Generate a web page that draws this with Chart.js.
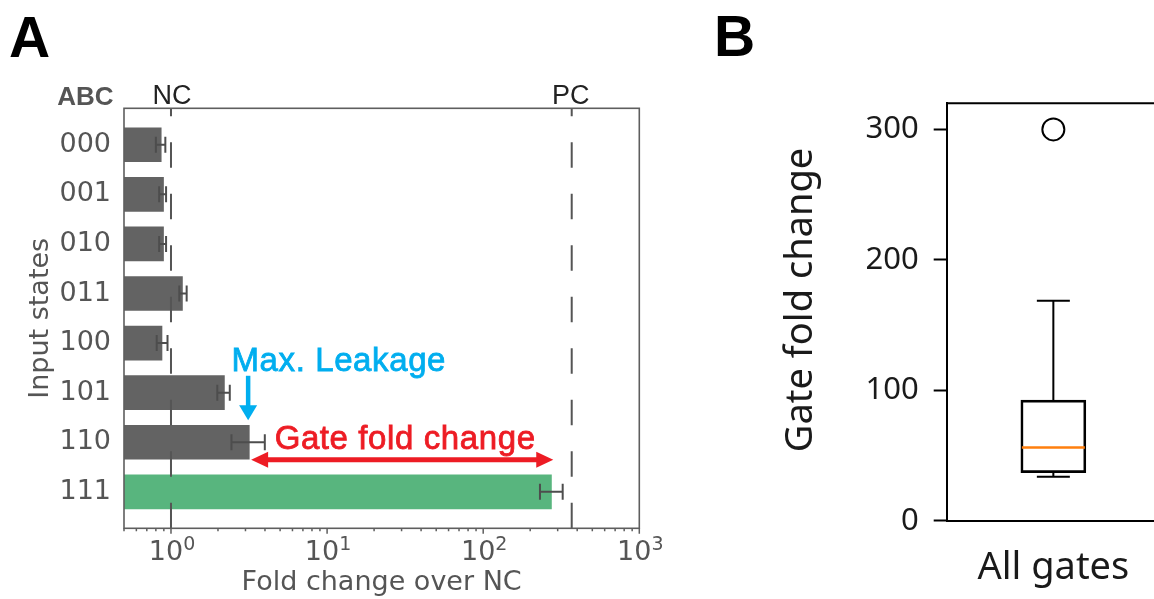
<!DOCTYPE html>
<html><head><meta charset="utf-8">
<script src="https://cdn.jsdelivr.net/npm/chart.js@4.4.1/dist/chart.umd.min.js"></script>
<style>
html,body{margin:0;padding:0;background:#fff;overflow:hidden;width:1154px;height:599px;position:relative;}
#wrapA{position:absolute;left:0;top:0;width:700px;height:599px;}
#wrapB{position:absolute;left:700px;top:0;width:480px;height:599px;}
canvas{display:block;}
</style></head><body>
<div id="wrapA"><canvas id="cA" width="700" height="599"></canvas></div>
<div id="wrapB"><canvas id="cB" width="480" height="599"></canvas></div>
<script>
// ---------- Panel A data ----------
const categories = ['000','001','010','011','100','101','110','111'];
const foldChange = [0.87, 0.90, 0.90, 1.19, 0.88, 2.21, 3.19, 275];
const errLow     = [0.80, 0.84, 0.84, 1.13, 0.81, 1.98, 2.44, 231];
const errHigh    = [0.92, 0.93, 0.93, 1.26, 0.95, 2.38, 3.99, 323];
const ncValue = 1;
const pcValue = 369;
const xMajorTicks = [1, 10, 100, 1000];
const xMinorTicks = [0.5,0.6,0.7,0.8,0.9, 2,3,4,5,6,7,8,9, 20,30,40,50,60,70,80,90, 200,300,400,500,600,700,800,900];

// ---------- Panel B data ----------
const boxCategory = ['All gates'];
const boxQ1 = [36.8];
const boxMedian = [56.2];
const boxQ3 = [92.5];
const whiskerLow = [33.7];
const whiskerHigh = [168.6];
const outliers = [300];
const yTicksB = [0, 100, 200, 300];

// ---------- helpers ----------
function arrowHead(ctx, tx, ty, dx, dy, len, halfW){
  const bx = tx - dx*len, by = ty - dy*len, px = -dy, py = dx;
  ctx.beginPath(); ctx.moveTo(tx, ty);
  ctx.lineTo(bx + px*halfW, by + py*halfW);
  ctx.lineTo(bx - px*halfW, by - py*halfW);
  ctx.closePath(); ctx.fill();
}
const TXT_A = '#555555';
const SPINE_A = '#5e5e5e';
const onIndex = categories.length - 1;
let leakIdx = 0;
foldChange.forEach((v,i) => { if (i !== onIndex && v > foldChange[leakIdx]) leakIdx = i; });

const panelAPlugin = {
  id: 'panelA',
  afterDatasetsDraw(chart){
    const {ctx, chartArea: a, scales: {x, y}} = chart;
    ctx.save();
    // dashed reference lines (NC, PC)
    ctx.strokeStyle = '#555'; ctx.lineWidth = 2; ctx.setLineDash([25.5, 26]);
    [ncValue, pcValue].forEach(v => {
      const px = x.getPixelForValue(v);
      ctx.beginPath(); ctx.moveTo(px, a.bottom); ctx.lineTo(px, a.top); ctx.stroke();
    });
    ctx.setLineDash([]);
    // error bars
    ctx.strokeStyle = '#4d4d4d'; ctx.lineWidth = 2;
    categories.forEach((c, i) => {
      const cy = y.getPixelForValue(i);
      const x0 = x.getPixelForValue(errLow[i]), x1 = x.getPixelForValue(errHigh[i]);
      ctx.beginPath();
      ctx.moveTo(x0, cy); ctx.lineTo(x1, cy);
      ctx.moveTo(x0, cy - 8); ctx.lineTo(x0, cy + 8);
      ctx.moveTo(x1, cy - 8); ctx.lineTo(x1, cy + 8);
      ctx.stroke();
    });
    ctx.restore();
  },
  afterDraw(chart){
    const {ctx, chartArea: a, scales: {x, y}} = chart;
    ctx.save();
    // frame
    ctx.strokeStyle = SPINE_A; ctx.lineWidth = 1.6;
    ctx.strokeRect(a.left, a.top, a.right - a.left, a.bottom - a.top);
    // x tick marks
    ctx.lineWidth = 1.5;
    ctx.beginPath();
    xMajorTicks.forEach(v => { const px = x.getPixelForValue(v); ctx.moveTo(px, a.bottom); ctx.lineTo(px, a.bottom + 5.5); });
    xMinorTicks.forEach(v => { const px = x.getPixelForValue(v); ctx.moveTo(px, a.bottom); ctx.lineTo(px, a.bottom + 3); });
    ctx.stroke();
    // x tick labels: 10 with superscript exponent
    ctx.fillStyle = TXT_A; ctx.textAlign = 'left'; ctx.textBaseline = 'alphabetic';
    xMajorTicks.forEach(v => {
      const px = x.getPixelForValue(v);
      const base = '10', exp = String(Math.round(Math.log10(v)));
      ctx.font = '27px "DejaVu Sans"'; const w1 = ctx.measureText(base).width;
      ctx.font = '19px "DejaVu Sans"'; const w2 = ctx.measureText(exp).width;
      const sx = px - (w1 + w2) / 2 + 1;
      ctx.font = '27px "DejaVu Sans"'; ctx.fillText(base, sx, a.bottom + 31.7);
      ctx.font = '19px "DejaVu Sans"'; ctx.fillText(exp, sx + w1, a.bottom + 21.7);
    });
    // NC / PC labels
    ctx.fillStyle = '#222'; ctx.font = '27px "Liberation Sans", Arial, sans-serif';
    ctx.textAlign = 'center';
    ctx.fillText('NC', x.getPixelForValue(ncValue) + 1, 103.5);
    ctx.fillText('PC', x.getPixelForValue(pcValue) - 1, 103.5);
    // ABC header
    ctx.fillStyle = TXT_A; ctx.font = 'bold 26px "Liberation Sans", Arial, sans-serif';
    ctx.textAlign = 'right';
    ctx.fillText('ABC', 113.5, 105);
    // panel letter
    ctx.fillStyle = '#000'; ctx.font = 'bold 57px "Liberation Sans", Arial, sans-serif';
    ctx.textAlign = 'left';
    ctx.fillText('A', 9, 56.7);
    // annotations
    const leakX = x.getPixelForValue(foldChange[leakIdx]);
    const onX = x.getPixelForValue(foldChange[onIndex]);
    const leakY = y.getPixelForValue(leakIdx);
    // Max. Leakage arrow (cyan)
    const cyan = '#00aeef';
    ctx.strokeStyle = cyan; ctx.fillStyle = cyan; ctx.lineWidth = 4.5;
    const ax = leakX - 1.5, tipY = leakY - 22, startY = leakY - 66.5;
    ctx.beginPath(); ctx.moveTo(ax, startY); ctx.lineTo(ax, tipY - 12); ctx.stroke();
    arrowHead(ctx, ax, tipY, 0, 1, 15, 9);
    ctx.font = '33px "Liberation Sans", Arial, sans-serif';
    if ('letterSpacing' in ctx) ctx.letterSpacing = '0.6px';
    ctx.textAlign = 'left';
    ctx.lineWidth = 0.8;
    ctx.fillText('Max. Leakage', ax - 16.6, startY - 5);
    ctx.strokeText('Max. Leakage', ax - 16.6, startY - 5);
    // Gate fold change double arrow (red)
    const red = '#ed1c24';
    const ry = leakY + 17.5;
    ctx.strokeStyle = red; ctx.fillStyle = red; ctx.lineWidth = 5;
    ctx.beginPath(); ctx.moveTo(leakX + 14, ry); ctx.lineTo(onX - 14, ry); ctx.stroke();
    arrowHead(ctx, leakX + 1.5, ry, -1, 0, 17, 8);
    arrowHead(ctx, onX + 1.5, ry, 1, 0, 17, 8);
    ctx.lineWidth = 0.8;
    ctx.fillText('Gate fold change', leakX + 25, ry - 10.6);
    ctx.strokeText('Gate fold change', leakX + 25, ry - 10.6);
    if ('letterSpacing' in ctx) ctx.letterSpacing = '0px';
    ctx.restore();
  }
};

new Chart(document.getElementById('cA'), {
  type: 'bar',
  data: { datasets: [{
    data: foldChange.map((v, i) => ({x: v, y: i})),
    backgroundColor: c => c.dataIndex === onIndex ? '#58b57e' : '#636363',
    borderWidth: 0,
    categoryPercentage: 1,
    barPercentage: 0.7
  }]},
  options: {
    indexAxis: 'y', responsive: false, animation: false, devicePixelRatio: 1,
    layout: { padding: {left: 0, top: 108.3, right: 60.7, bottom: 0} },
    plugins: { legend: {display: false}, tooltip: {enabled: false} },
    scales: {
      x: {
        type: 'logarithmic', min: 0.5, max: 1000, beginAtZero: false,
        afterBuildTicks: s => { s.ticks = xMajorTicks.map(v => ({value: v})); },
        afterFit: s => { s.height = 70.7; },
        ticks: { display: false },
        grid: {display: false, drawTicks: false}, border: {display: false},
        title: { display: true, text: 'Fold change over NC', color: TXT_A,
                 font: {family: '"DejaVu Sans"', size: 27}, padding: {top: 0, bottom: 0} }
      },
      y: {
        type: 'linear', reverse: true, min: -0.735, max: 7.735, offset: false,
        afterBuildTicks: s => { s.ticks = categories.map((c, i) => ({value: i})); },
        afterFit: s => { s.width = 124; },
        ticks: { callback: v => categories[v], autoSkip: false, padding: 13, color: TXT_A,
                 font: {family: '"DejaVu Sans"', size: 27} },
        grid: {display: false, drawTicks: false}, border: {display: false},
        title: { display: true, text: 'Input states', color: TXT_A,
                 font: {family: '"DejaVu Sans"', size: 27}, padding: {top: 24.5, bottom: 0} }
      }
    }
  },
  plugins: [panelAPlugin]
});

// ---------- Panel B ----------
const TXT_B = '#1a1a1a';
const panelBPlugin = {
  id: 'panelB',
  afterDatasetsDraw(chart){
    const {ctx, chartArea: a, scales: {x, y}} = chart;
    ctx.save();
    boxCategory.forEach((c, i) => {
      const cx = x.getPixelForValue(i);
      const capHalf = 16.5, boxHalf = 32.5;
      ctx.strokeStyle = '#000'; ctx.lineWidth = 2;
      ctx.beginPath();
      ctx.moveTo(cx, y.getPixelForValue(boxQ3[i])); ctx.lineTo(cx, y.getPixelForValue(whiskerHigh[i]));
      ctx.moveTo(cx - capHalf, y.getPixelForValue(whiskerHigh[i])); ctx.lineTo(cx + capHalf, y.getPixelForValue(whiskerHigh[i]));
      ctx.moveTo(cx, y.getPixelForValue(boxQ1[i])); ctx.lineTo(cx, y.getPixelForValue(whiskerLow[i]));
      ctx.moveTo(cx - capHalf, y.getPixelForValue(whiskerLow[i])); ctx.lineTo(cx + capHalf, y.getPixelForValue(whiskerLow[i]));
      ctx.stroke();
      ctx.strokeStyle = '#ff7f0e'; ctx.lineWidth = 2.5;
      ctx.beginPath();
      ctx.moveTo(cx - boxHalf + 1, y.getPixelForValue(boxMedian[i])); ctx.lineTo(cx + boxHalf - 1, y.getPixelForValue(boxMedian[i]));
      ctx.stroke();
    });
    ctx.restore();
  },
  afterDraw(chart){
    const {ctx, chartArea: a} = chart;
    ctx.save();
    ctx.strokeStyle = '#000'; ctx.lineWidth = 2;
    ctx.beginPath();
    ctx.moveTo(a.left, a.top); ctx.lineTo(a.right, a.top); ctx.lineTo(a.right, a.bottom);
    ctx.stroke();
    // y title
    ctx.fillStyle = TXT_B; ctx.font = '38px "Noto Sans", sans-serif';
    ctx.textAlign = 'center'; ctx.textBaseline = 'alphabetic';
    ctx.translate(112, 300); ctx.rotate(-Math.PI / 2);
    ctx.fillText('Gate fold change', 0, 0);
    ctx.setTransform(1, 0, 0, 1, 0, 0);
    // panel letter
    ctx.fillStyle = '#000'; ctx.font = 'bold 57px "Liberation Sans", Arial, sans-serif';
    ctx.textAlign = 'left';
    ctx.fillText('B', 14, 56);
    ctx.restore();
  }
};

new Chart(document.getElementById('cB'), {
  type: 'bar',
  data: {
    labels: boxCategory,
    datasets: [
      { type: 'bar', data: boxCategory.map((c, i) => [boxQ1[i], boxQ3[i]]),
        backgroundColor: 'rgba(255,255,255,0)', borderColor: '#000', borderWidth: 2,
        borderSkipped: false, barThickness: 65 },
      { type: 'line', data: outliers.map(v => ({x: boxCategory[0], y: v})), showLine: false,
        pointStyle: 'circle', pointRadius: 11, pointBorderWidth: 2, pointBorderColor: '#000',
        pointBackgroundColor: 'rgba(255,255,255,0)' }
    ]
  },
  options: {
    responsive: false, animation: false, devicePixelRatio: 1,
    layout: { padding: {left: 0, top: 103.3, right: 20, bottom: 0} },
    plugins: { legend: {display: false}, tooltip: {enabled: false} },
    scales: {
      x: {
        type: 'category', offset: true,
        afterFit: s => { s.height = 78.3; },
        ticks: { color: TXT_B, padding: 17, font: {family: '"Noto Sans"', size: 38} },
        grid: {display: false}, border: {display: true, color: '#000', width: 2}
      },
      y: {
        type: 'linear', min: 0, max: 320,
        afterBuildTicks: s => { s.ticks = yTicksB.map(v => ({value: v})); },
        afterFit: s => { s.width = 246.7; },
        ticks: { color: TXT_B, padding: 15, font: {family: '"Noto Sans"', size: 31} },
        grid: { display: true, drawOnChartArea: false, drawTicks: true, tickLength: 13, tickWidth: 2, tickColor: '#000' },
        border: {display: true, color: '#000', width: 2}
      }
    }
  },
  plugins: [panelBPlugin]
});
</script>
</body></html>
